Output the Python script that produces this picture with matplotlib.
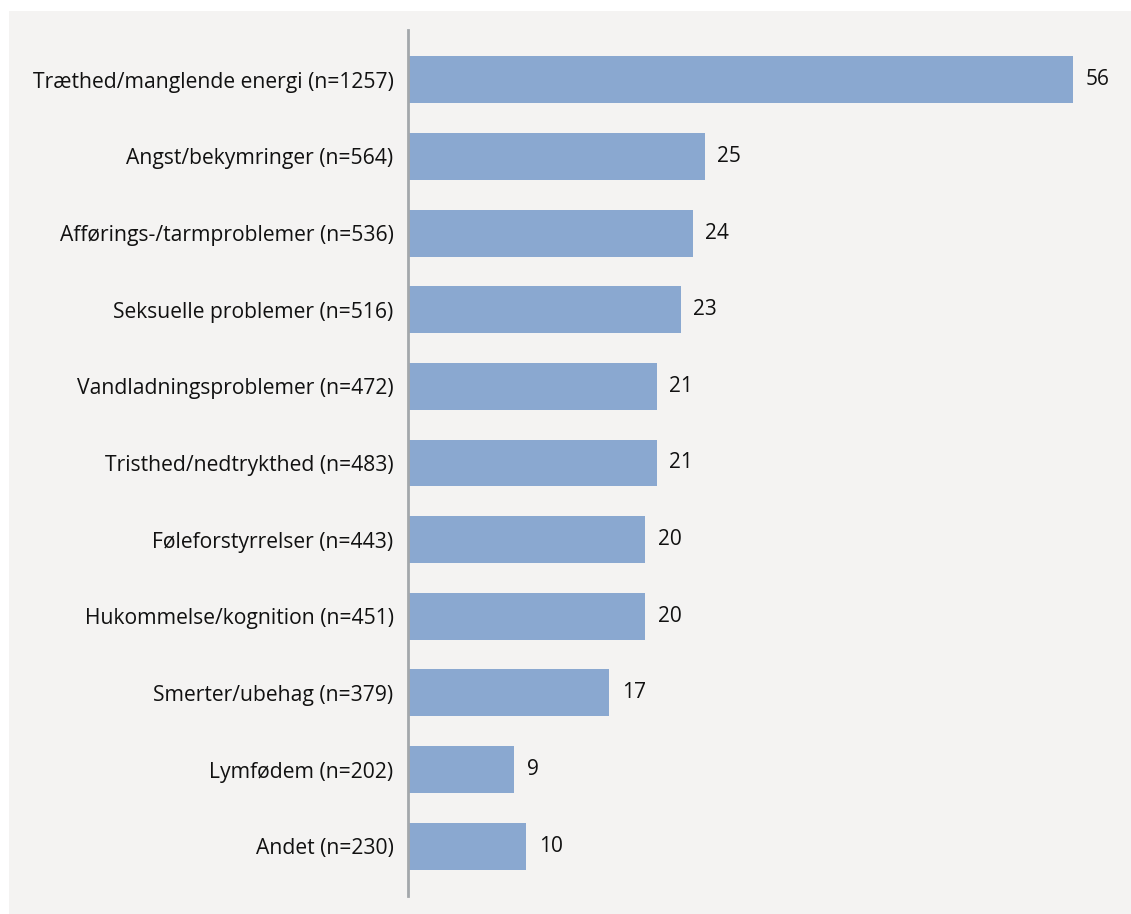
import matplotlib.pyplot as plt
from matplotlib.patches import Rectangle

# Symptom categories, top to bottom, with share of respondents (%)
categories = [
    "Træthed/manglende energi (n=1257)",
    "Angst/bekymringer (n=564)",
    "Afførings-/tarmproblemer (n=536)",
    "Seksuelle problemer (n=516)",
    "Vandladningsproblemer (n=472)",
    "Tristhed/nedtrykthed (n=483)",
    "Føleforstyrrelser (n=443)",
    "Hukommelse/kognition (n=451)",
    "Smerter/ubehag (n=379)",
    "Lymfødem (n=202)",
    "Andet (n=230)",
]
values = [56, 25, 24, 23, 21, 21, 20, 20, 17, 9, 10]

BAR_COLOR = "#8aa8d0"
PANEL_COLOR = "#f4f3f2"
AXIS_COLOR = "#a3a7ab"

plt.rcParams['font.family'] = ['Open Sans', 'DejaVu Sans']

fig = plt.figure(figsize=(11.31, 9.14), dpi=100)
fig.patch.set_facecolor("white")

# light grey panel behind the chart
fig.patches.append(Rectangle((9 / 1131, -0.01), 1.0, 1.01 - 11 / 914,
                             transform=fig.transFigure, facecolor=PANEL_COLOR,
                             edgecolor="none", zorder=-5))

ax = fig.add_axes([407.5 / 1131, 1 - 896 / 914, 712.8 / 1131, 866 / 914])
ax.set_zorder(1)
ax.patch.set_visible(False)

pos = list(range(len(categories)))
bars = ax.barh(pos, values, height=0.613, color=BAR_COLOR, zorder=2)

for rect, v in zip(bars, values):
    ax.text(rect.get_width() + 1.05, rect.get_y() + rect.get_height() / 2,
            f"{v}", va="center", ha="left", fontsize=15, color="#111111")

ax.set_xlim(0, 60)
ax.set_ylim(10.65, -0.65)
ax.set_yticks(pos)
ax.set_yticklabels(categories, fontsize=15.2, color="#111111")
ax.tick_params(axis="y", length=0, pad=10)
ax.set_xticks([])

for side in ["top", "right", "bottom"]:
    ax.spines[side].set_visible(False)
ax.spines["left"].set_color(AXIS_COLOR)
ax.spines["left"].set_linewidth(2)

fig.savefig("out.png", dpi=100)
